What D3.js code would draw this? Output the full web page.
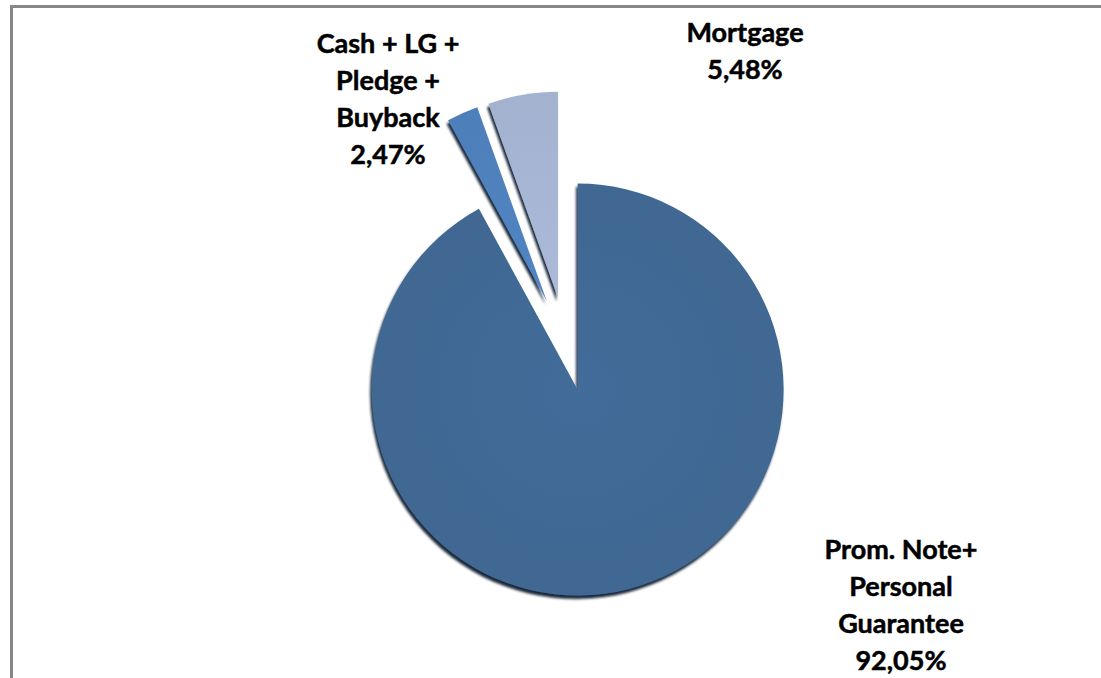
<!DOCTYPE html>
<html>
<head>
<meta charset="utf-8">
<script src="https://cdn.jsdelivr.net/npm/d3@7"></script>
<style>
  html, body { margin: 0; padding: 0; background: #ffffff; }
  svg { display: block; }
</style>
</head>
<body>
<script>
// ---- data ----
const categories = ["Prom. Note+ Personal Guarantee", "Cash + LG + Pledge + Buyback", "Mortgage"];
const values = [92.05, 2.47, 5.48];
const valueLabels = ["92,05%", "2,47%", "5,48%"];
const labelLines = [
  ["Prom. Note+", "Personal", "Guarantee"],
  ["Cash + LG +", "Pledge +", "Buyback"],
  ["Mortgage"]
];
const colors = ["#416995", "#4f81bd", "#a6b5d3"];

// ---- layout ----
const W = 1101, H = 678;
const cx = 566, cy = 344, R = 206, explode = 47;
const labelPos = [[901, 559], [388, 53], [745, 42]]; // first-line baseline centres
const lineGap = 37;

const svg = d3.select("body").append("svg").attr("width", W).attr("height", H);
const defs = svg.append("defs");

const f = defs.append("filter").attr("id", "sh").attr("x", "-20%").attr("y", "-20%").attr("width", "140%").attr("height", "140%");
f.append("feDropShadow").attr("dx", -1.5).attr("dy", 3.5).attr("stdDeviation", 1.1)
  .attr("flood-color", "#0d1a2e").attr("flood-opacity", 0.95);

colors.forEach((c, i) => {
  const g = defs.append("radialGradient").attr("id", "g" + i)
    .attr("gradientUnits", "userSpaceOnUse").attr("cx", 0).attr("cy", 0).attr("r", R);
  const base = d3.color(c);
  g.append("stop").attr("offset", "0%").attr("stop-color", base.brighter(0.08).formatHex());
  g.append("stop").attr("offset", "100%").attr("stop-color", base.darker(0.05).formatHex());
});

// frame
svg.append("rect").attr("x", 11.5).attr("y", 6.5).attr("width", 1200).attr("height", 800)
  .attr("fill", "none").attr("stroke", "#878787").attr("stroke-width", 3);

const pie = d3.pie().sort(null).value(d => d);
const arcs = pie(values);
const arc = d3.arc().innerRadius(0).outerRadius(R);

const gPie = svg.append("g").attr("transform", `translate(${cx},${cy})`);
gPie.selectAll("path").data(arcs).join("path")
  .attr("transform", d => {
    const a = (d.startAngle + d.endAngle) / 2;
    return `translate(${explode * Math.sin(a)},${-explode * Math.cos(a)})`;
  })
  .attr("d", arc)
  .attr("fill", (d, i) => `url(#g${i})`)
  .attr("filter", "url(#sh)");

// labels
const gLab = svg.append("g")
  .attr("font-family", "Lato, 'Open Sans', sans-serif")
  .attr("font-weight", 700)
  .attr("font-size", 27)
  .attr("fill", "#000")
  .attr("stroke", "#000")
  .attr("stroke-width", 0.5)
  .attr("text-anchor", "middle");
labelLines.forEach((lines, i) => {
  const all = lines.concat([valueLabels[i]]);
  const t = gLab.append("text").attr("x", labelPos[i][0]).attr("y", labelPos[i][1]);
  all.forEach((s, j) => {
    t.append("tspan").attr("x", labelPos[i][0]).attr("dy", j === 0 ? 0 : lineGap).text(s);
  });
});
</script>
</body>
</html>
